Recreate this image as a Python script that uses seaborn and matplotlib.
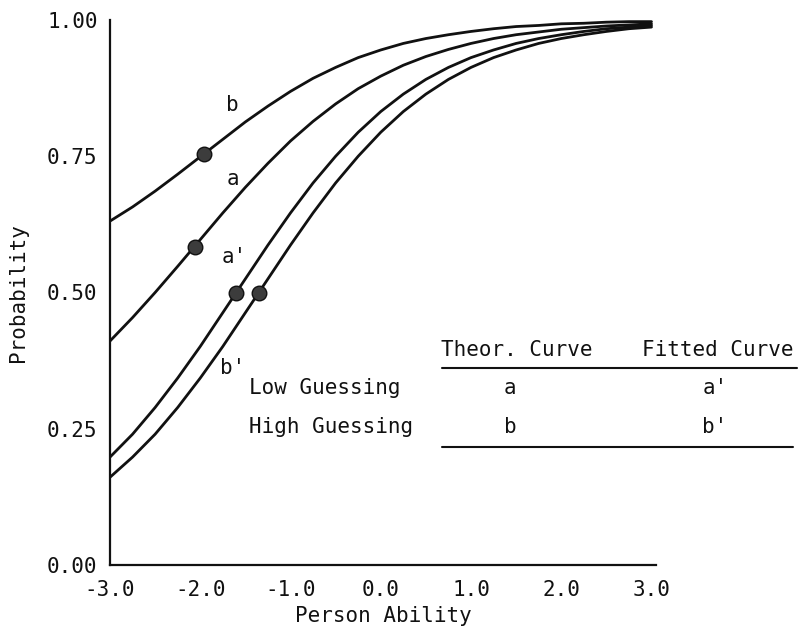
import matplotlib
matplotlib.use("Agg")
import matplotlib.pyplot as plt
import seaborn as sns
import pandas as pd
from matplotlib.lines import Line2D

# ---- data ----
ability = [-3.0, -2.75, -2.5, -2.25, -2.0, -1.75, -1.5, -1.25, -1.0, -0.75, -0.5, -0.25,
           0.0, 0.25, 0.5, 0.75, 1.0, 1.25, 1.5, 1.75, 2.0, 2.25, 2.5, 2.75, 3.0]
curve_b = [0.631, 0.657, 0.686, 0.717, 0.749, 0.781, 0.813, 0.842, 0.869, 0.893, 0.913, 0.931,
           0.945, 0.957, 0.966, 0.973, 0.979, 0.984, 0.988, 0.990, 0.993, 0.994, 0.996, 0.997, 0.997]
curve_a = [0.411, 0.454, 0.500, 0.548, 0.597, 0.646, 0.693, 0.737, 0.778, 0.814, 0.846, 0.874,
           0.897, 0.917, 0.933, 0.946, 0.957, 0.966, 0.973, 0.978, 0.983, 0.986, 0.989, 0.991, 0.993]
curve_a_fit = [0.198, 0.240, 0.289, 0.343, 0.401, 0.463, 0.525, 0.587, 0.646, 0.701, 0.750, 0.794,
               0.832, 0.864, 0.891, 0.913, 0.931, 0.945, 0.957, 0.966, 0.973, 0.979, 0.984, 0.987, 0.990]
curve_b_fit = [0.161, 0.198, 0.240, 0.289, 0.343, 0.401, 0.463, 0.525, 0.587, 0.646, 0.701, 0.750,
               0.794, 0.832, 0.864, 0.891, 0.913, 0.931, 0.945, 0.957, 0.966, 0.973, 0.979, 0.984, 0.987]

dot_names = ["b", "a", "a'", "b'"]
dot_x = [-1.96, -2.06, -1.60, -1.35]
dot_y = [0.754, 0.583, 0.50, 0.50]

label_names = ["b", "a", "a'", "b'"]
label_x = [-1.64, -1.64, -1.62, -1.64]
label_y = [0.844, 0.708, 0.565, 0.361]

x_ticks = [-3.0, -2.0, -1.0, 0.0, 1.0, 2.0, 3.0]
x_tick_labels = ["-3.0", "-2.0", "-1.0", "0.0", "1.0", "2.0", "3.0"]
y_ticks = [0.0, 0.25, 0.5, 0.75, 1.0]
y_tick_labels = ["0.00", "0.25", "0.50", "0.75", "1.00"]

table_header = ["Theor. Curve", "Fitted Curve"]
table_rows = ["Low Guessing", "High Guessing"]
table_theor = ["a", "b"]
table_fitted = ["a'", "b'"]

# ---- build long table ----
frames = []
for name, vals in [("b", curve_b), ("a", curve_a), ("a'", curve_a_fit), ("b'", curve_b_fit)]:
    frames.append(pd.DataFrame({"ability": ability, "prob": vals, "curve": name}))
df = pd.concat(frames, ignore_index=True)
dots = pd.DataFrame({"ability": dot_x, "prob": dot_y, "curve": dot_names})

sns.set_style("white")
plt.rcParams["font.family"] = ["DejaVu Sans Mono", "DejaVu Sans"]
plt.rcParams["axes.unicode_minus"] = False

W, H = 799, 631
fig = plt.figure(figsize=(W / 100, H / 100), dpi=100)
ax_left, ax_right, ax_top, ax_bottom = 110, 656, 20, 565
ax = fig.add_axes([ax_left / W, 1 - ax_bottom / H, (ax_right - ax_left) / W, (ax_bottom - ax_top) / H])

palette = {"b": "#111111", "a": "#111111", "a'": "#111111", "b'": "#111111"}
sns.lineplot(data=df, x="ability", y="prob", hue="curve", palette=palette,
             linewidth=2.0, legend=False, ax=ax, sort=True, solid_capstyle="round")
sns.scatterplot(data=dots, x="ability", y="prob", color="#3c3c3c", edgecolor="#111111",
                linewidth=1.0, s=110, legend=False, ax=ax, zorder=5)

ax.set_xlim(-3.0, 3.05)
ax.set_ylim(0.0, 1.0)
ax.set_xticks(x_ticks)
ax.set_xticklabels(x_tick_labels)
ax.set_yticks(y_ticks)
ax.set_yticklabels(y_tick_labels)
ax.tick_params(direction="in", length=7, width=1.5, labelsize=15, colors="#111111")
ax.tick_params(axis="x", pad=11)
ax.tick_params(axis="y", pad=9)
ax.spines["top"].set_visible(False)
ax.spines["right"].set_visible(False)
for s in ["left", "bottom"]:
    ax.spines[s].set_linewidth(1.6)
    ax.spines[s].set_color("#111111")
ax.set_xlabel("Person Ability", fontsize=15, labelpad=4, color="#111111")
ax.set_ylabel("Probability", fontsize=15, labelpad=14, color="#111111")

for n, lx, ly in zip(label_names, label_x, label_y):
    ax.text(lx, ly, n, fontsize=15, ha="center", va="center", color="#111111")

def fx(px):
    return px / W

def fy(py):
    return 1 - py / H

fig.text(fx(517), fy(350), table_header[0], fontsize=15, ha="center", va="center", color="#111111")
fig.text(fx(718), fy(350), table_header[1], fontsize=15, ha="center", va="center", color="#111111")
fig.add_artist(Line2D([fx(442), fx(797)], [fy(368), fy(368)], color="#111111", linewidth=1.5))
row_y = [388, 427]
for i in range(2):
    fig.text(fx(249), fy(row_y[i]), table_rows[i], fontsize=15, ha="left", va="center", color="#111111")
    fig.text(fx(510), fy(row_y[i]), table_theor[i], fontsize=15, ha="center", va="center", color="#111111")
    fig.text(fx(715), fy(row_y[i]), table_fitted[i], fontsize=15, ha="center", va="center", color="#111111")
fig.add_artist(Line2D([fx(442), fx(793)], [fy(447), fy(447)], color="#111111", linewidth=1.5))

fig.savefig("out.png", dpi=100, facecolor="white")
